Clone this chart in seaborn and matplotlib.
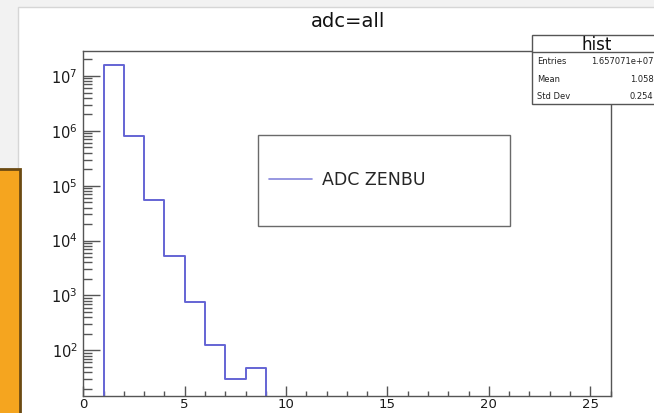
import numpy as np
import pandas as pd
import matplotlib
matplotlib.use("Agg")
import matplotlib.pyplot as plt
import seaborn as sns
from matplotlib.patches import Rectangle
from matplotlib.lines import Line2D
from matplotlib.ticker import LogLocator, MultipleLocator, NullFormatter, FixedLocator

# ---- data ----
adc_values = [1, 2, 3, 4, 5, 6, 7, 8]
counts = [1.567e7, 8.16e5, 5.56e4, 5.30e3, 750, 126, 30, 48]
bin_edges = list(range(0, 27))
x_ticks = [0, 5, 10, 15, 20, 25]
y_ticks = [1e2, 1e3, 1e4, 1e5, 1e6, 1e7]
title = "adc=all"
legend_label = "ADC ZENBU"
stats_title = "hist"
stats_names = ["Entries", "Mean", "Std Dev"]
stats_values = ["1.657071e+07", "1.058", "0.254"]

W, H = 654, 413
PX = 0.72  # points per pixel at dpi 100
sns.set_theme(style="white")
plt.rcParams['font.family'] = ['DejaVu Sans']

fig = plt.figure(figsize=(W / 100, H / 100), dpi=100)
fig.patch.set_facecolor('#f2f2f2')


def fx(x):
    return x / W


def fy(y):
    return 1 - y / H


# white canvas
fig.patches.append(Rectangle((fx(18.3), fy(420)), 1.1, fy(7.3) - fy(420),
                             transform=fig.transFigure, facecolor='white',
                             edgecolor='#d6d6d6', lw=1, zorder=-10))

ax = fig.add_axes([fx(83.3), fy(396), fx(610.5) - fx(83.3), fy(50.7) - fy(396)])
ax.set_facecolor('white')

df = pd.DataFrame({"adc": adc_values, "count": counts})
sns.histplot(data=df, x="adc", weights="count", bins=bin_edges, element="step",
             fill=False, color="#6464d4", linewidth=1.4, ax=ax)
ax.set_yscale('log')
ax.set_xlim(0, 26)
ax.set_ylim(14.7, 2.89e7)
ax.set_xlabel('')
ax.set_ylabel('')

for s in ax.spines.values():
    s.set_color('#555555')
    s.set_linewidth(1)

ax.xaxis.set_major_locator(FixedLocator(x_ticks))
ax.xaxis.set_minor_locator(MultipleLocator(1))
ax.yaxis.set_major_locator(FixedLocator(y_ticks))
ax.yaxis.set_minor_locator(LogLocator(base=10, subs=np.arange(2, 10), numticks=20))
ax.yaxis.set_minor_formatter(NullFormatter())
ax.tick_params(axis='both', which='both', direction='in', color='#555555',
               bottom=True, left=True, top=False, right=False,
               labelcolor='#1a1a1a', width=1)
ax.tick_params(axis='x', which='major', length=10 * PX, pad=1.5, labelsize=9.5)
ax.tick_params(axis='x', which='minor', length=5 * PX)
ax.tick_params(axis='y', which='major', length=17 * PX, pad=4, labelsize=10.5)
ax.tick_params(axis='y', which='minor', length=9 * PX)

# legend box
ax.add_patch(Rectangle((fx(258.3), fy(225.7)), fx(509.6) - fx(258.3), fy(135) - fy(225.7),
                       transform=fig.transFigure, facecolor='white', edgecolor='#6a6a6a',
                       lw=1, zorder=3, clip_on=False))
proxy = Line2D([], [], color='#8585dc', lw=1.2)
leg_fs_px = 12.5 / PX
ax.legend(handles=[proxy], labels=[legend_label], loc='center left',
          bbox_to_anchor=(fx(268.8), fy(180.3)), bbox_transform=fig.transFigure,
          frameon=False, borderpad=0, borderaxespad=0, handlelength=43 / leg_fs_px,
          handletextpad=10 / leg_fs_px, fontsize=12.5)

# title
fig.text(fx(348), fy(21.5), title, ha='center', va='center', fontsize=14, color='#111111')

# stats box
fig.patches.append(Rectangle((fx(531.7), fy(104)), fx(662) - fx(531.7), fy(35) - fy(104),
                             transform=fig.transFigure, facecolor='white',
                             edgecolor='#555555', lw=1, zorder=5))
fig.lines.append(Line2D([fx(531.7), fx(662)], [fy(52.3), fy(52.3)],
                        transform=fig.transFigure, color='#555555', lw=1, zorder=6))
fig.text(fx(596.5), fy(49.5), stats_title, ha='center', va='baseline', fontsize=12,
         color='#111111', zorder=7)
rows_y = [61.7, 79.2, 96.5]
for name, val, yy in zip(stats_names, stats_values, rows_y):
    fig.text(fx(537), fy(yy), name, ha='left', va='center', fontsize=6, color='#222222', zorder=7)
    fig.text(fx(653.5), fy(yy), val, ha='right', va='center', fontsize=6, color='#222222', zorder=7)

# orange box at left
fig.patches.append(Rectangle((fx(-3), fy(420)), fx(19.6) - fx(-3), fy(169) - fy(420),
                             transform=fig.transFigure, facecolor='#f5a51f',
                             edgecolor='#6b4a12', lw=2, zorder=8))

fig.savefig("out.png", dpi=100)
